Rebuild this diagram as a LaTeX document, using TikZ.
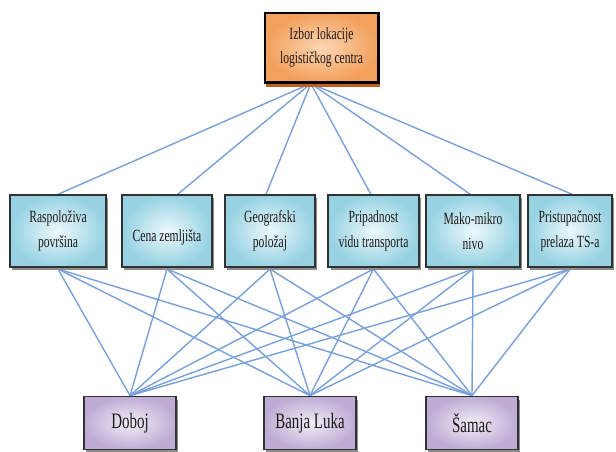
\documentclass[tikz,border=0pt]{standalone}
\usepackage{fontspec}
\newfontfamily\cond[FakeStretch=0.68]{Liberation Serif}
\usetikzlibrary{shadows,backgrounds}
\definecolor{linkc}{RGB}{120,160,218}
\definecolor{orin}{RGB}{252,214,180}
\definecolor{orout}{RGB}{243,160,92}
\definecolor{orsh}{RGB}{190,95,30}
\definecolor{cyin}{RGB}{236,248,251}
\definecolor{cyout}{RGB}{150,210,226}
\definecolor{lvin}{RGB}{242,236,247}
\definecolor{lvout}{RGB}{190,172,212}
\definecolor{bord}{RGB}{50,50,50}
\definecolor{shgray}{RGB}{140,140,140}
\definecolor{txt}{RGB}{30,25,25}
\begin{document}
\begin{tikzpicture}[x=0.75pt,y=-0.75pt,
  topbox/.style={draw=black, line width=2pt, inner color=orin, outer color=orout,
    minimum width=85pt, minimum height=52pt, inner sep=0pt, align=center, text=txt,
    font=\cond\fontsize{12.8}{18.5}\selectfont,
    general shadow={shadow xshift=1.2pt, shadow yshift=-3.5pt, fill=orsh}},
  midbox/.style={draw=bord, line width=1.1pt, inner color=cyin, outer color=cyout,
    minimum height=54pt, inner sep=0pt, align=center, text=txt,
    font=\cond\fontsize{12.8}{18.5}\selectfont,
    general shadow={shadow xshift=1.8pt, shadow yshift=-2.5pt, fill=shgray}},
  botbox/.style={draw=bord, line width=1.1pt, inner color=lvin, outer color=lvout,
    minimum width=69pt, minimum height=40pt, inner sep=0pt, align=center, text=txt,
    font=\cond\fontsize{16.5}{19}\selectfont,
    general shadow={shadow xshift=1.8pt, shadow yshift=-2.5pt, fill=shgray}},
  link/.style={draw=linkc, line width=1.05pt}
]
\useasboundingbox (0,0) rectangle (616,451);

\node[topbox] (top) at (321.5,47.5) {Izbor lokacije\\logističkog centra};

\node[midbox, minimum width=72pt] (m1) at (58,231) {Raspoloživa\\površina};
\node[midbox, minimum width=67.5pt] (m2) at (167,231) {\mbox{}\\Cena zemljišta};
\node[midbox, minimum width=67.5pt] (m3) at (270,231) {Geografski\\položaj};
\node[midbox, minimum width=68pt] (m4) at (373.5,231) {Pripadnost\\vidu transporta};
\node[midbox, minimum width=70.5pt] (m5) at (473,231) {Mako-mikro\\nivo};
\node[midbox, minimum width=63pt] (m6) at (570,231) {Pristupačnost\\prelaza TS-a};

\node[botbox] (b1) at (130,423) {Doboj};
\node[botbox] (b2) at (310,423) {Banja Luka};
\node[botbox] (b3) at (472,423) {Šamac};

\begin{scope}[on background layer]
  \draw[link] ([xshift=-8pt]top.south) -- (m1.north);
  \draw[link] ([xshift=-8pt]top.south) -- ([xshift=8pt]m2.north);
  \draw[link] ([xshift=-8pt]top.south) -- ([xshift=-3pt]m3.north);
  \draw[link] ([xshift=-8pt]top.south) -- ([xshift=-2pt]m4.north);
  \draw[link] ([xshift=-8pt]top.south) -- ([xshift=-2pt]m5.north);
  \draw[link] ([xshift=-8pt]top.south) -- ([xshift=1.5pt]m6.north);
  \foreach \m in {m1,m2,m3,m4,m5,m6}{
    \foreach \b in {b1,b2,b3}{
      \draw[link] ([yshift=-1pt]\m.south) -- (\b.north);
    }
  }
\end{scope}
\end{tikzpicture}
\end{document}
